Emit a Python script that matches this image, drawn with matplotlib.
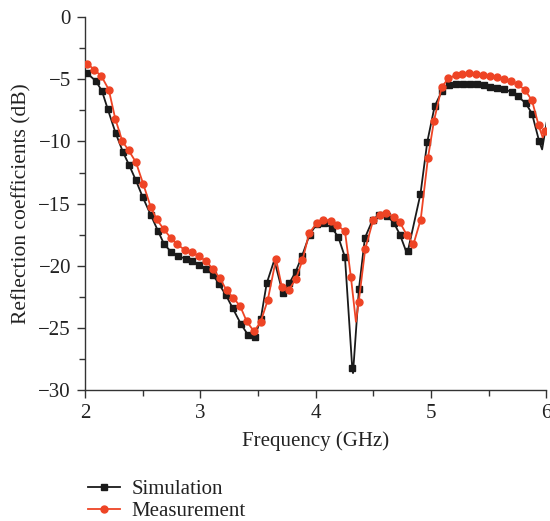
import numpy as np
import matplotlib
matplotlib.use("Agg")
import matplotlib.pyplot as plt
from matplotlib.lines import Line2D

# ---- data ----
sim_freq = [2.020, 2.093, 2.147, 2.197, 2.266, 2.330, 2.382, 2.440, 2.500, 2.570,
            2.633, 2.685, 2.746, 2.807, 2.876, 2.925, 2.989, 3.049, 3.110, 3.162,
            3.223, 3.281, 3.353, 3.414, 3.472, 3.524, 3.576, 3.715, 3.772, 3.827,
            3.882, 3.948, 4.010, 4.073, 4.142, 4.197, 4.255, 4.318, 4.376, 4.428,
            4.495, 4.552, 4.617, 4.678, 4.732, 4.801, 4.910, 4.969, 5.033, 5.096,
            5.154, 5.218, 5.278, 5.339, 5.400, 5.461, 5.513, 5.571, 5.634, 5.703,
            5.755, 5.822, 5.877, 5.938]
sim_db = [-4.53, -5.12, -5.93, -7.38, -9.33, -10.86, -11.88, -13.09, -14.46, -15.90,
          -17.19, -18.24, -18.88, -19.23, -19.44, -19.63, -19.95, -20.25, -20.73, -21.48,
          -22.37, -23.41, -24.70, -25.56, -25.72, -24.32, -21.42, -22.18, -21.42, -20.49,
          -19.23, -17.50, -16.65, -16.55, -16.97, -17.68, -19.31, -28.21, -21.88, -17.76,
          -16.31, -15.91, -15.97, -16.53, -17.50, -18.80, -14.22, -10.03, -7.16, -5.95,
          -5.49, -5.37, -5.37, -5.37, -5.37, -5.45, -5.63, -5.71, -5.79, -6.03,
          -6.36, -6.92, -7.75, -9.94]
# extra points the simulation curve passes through between markers
sim_curve_freq = [3.642, 4.325, 4.790, 5.965, 6.004]
sim_curve_db = [-19.55, -28.64, -18.95, -10.64, -8.49]

meas_freq = [2.020, 2.081, 2.141, 2.206, 2.263, 2.324, 2.379, 2.442, 2.506, 2.570,
             2.622, 2.685, 2.746, 2.801, 2.865, 2.928, 2.986, 3.049, 3.110, 3.171,
             3.229, 3.286, 3.347, 3.402, 3.466, 3.524, 3.585, 3.657, 3.709, 3.767,
             3.830, 3.886, 3.944, 4.010, 4.067, 4.131, 4.186, 4.255, 4.307, 4.374,
             4.431, 4.500, 4.559, 4.611, 4.676, 4.732, 4.790, 4.849, 4.912, 4.975,
             5.027, 5.094, 5.151, 5.215, 5.272, 5.330, 5.391, 5.452, 5.513, 5.571,
             5.634, 5.695, 5.755, 5.816, 5.877, 5.935, 5.994]
meas_db = [-3.73, -4.24, -4.72, -5.82, -8.18, -9.98, -10.72, -11.67, -13.44, -15.26,
           -16.27, -17.08, -17.78, -18.29, -18.72, -18.91, -19.23, -19.61, -20.27, -21.02,
           -21.99, -22.57, -23.27, -24.46, -25.29, -24.51, -22.77, -19.47, -21.75, -21.96,
           -21.05, -19.57, -17.40, -16.55, -16.31, -16.36, -16.73, -17.22, -20.94, -22.93,
           -18.64, -16.31, -15.91, -15.74, -16.05, -16.52, -17.50, -18.28, -16.28, -11.32,
           -8.34, -5.63, -4.93, -4.67, -4.59, -4.51, -4.59, -4.67, -4.77, -4.80,
           -4.96, -5.17, -5.41, -5.85, -6.70, -8.71, -9.17]
meas_curve_freq = [4.350, 5.970]
meas_curve_db = [-24.51, -9.68]

x_ticks = [2, 3, 4, 5, 6]
y_ticks = [0, -5, -10, -15, -20, -25, -30]
series_names = ["Simulation", "Measurement"]

# ---- style ----
plt.rcParams['font.family'] = ['Liberation Serif', 'DejaVu Serif']
plt.rcParams['axes.unicode_minus'] = True
FS = 15
sim_color = '#1a1a1a'
meas_color = '#ee4425'
axis_color = '#333333'
text_color = '#222222'
MS = 5.0

fig = plt.figure(figsize=(5.5, 5.21), dpi=100)
ax = fig.add_axes([0.1545, 0.2514, 0.993 - 0.1545, 0.967 - 0.2514])


def merged(xs, ys, exs, eys):
    x = np.array(list(xs) + list(exs))
    y = np.array(list(ys) + list(eys))
    o = np.argsort(x)
    return x[o], y[o]


sx, sy = merged(sim_freq, sim_db, sim_curve_freq, sim_curve_db)
mx, my = merged(meas_freq, meas_db, meas_curve_freq, meas_curve_db)

ax.plot(sx, sy, color=sim_color, lw=1.3, zorder=2, solid_joinstyle='round')
ax.plot(sim_freq, sim_db, ls='none', marker='s', ms=MS, color=sim_color,
        mec=sim_color, zorder=3)
ax.plot(mx, my, color=meas_color, lw=1.3, zorder=4, solid_joinstyle='round')
ax.plot(meas_freq, meas_db, ls='none', marker='o', ms=MS, color=meas_color,
        mec=meas_color, zorder=5)

ax.set_xlim(2, 6)
ax.set_ylim(-30, 0)
ax.set_xticks(x_ticks)
ax.set_yticks(y_ticks)
ax.set_xticks(np.arange(2.5, 6, 1.0), minor=True)
ax.set_yticks(np.arange(-27.5, 0, 5.0), minor=True)
ax.set_xticklabels([str(t) for t in x_ticks])
ax.set_yticklabels([str(t).replace('-', '\u2212') for t in y_ticks])

for s in ['top', 'right']:
    ax.spines[s].set_visible(False)
for s in ['left', 'bottom']:
    ax.spines[s].set_color(axis_color)
    ax.spines[s].set_linewidth(1.0)

ax.tick_params(which='major', direction='out', length=6, width=1.0,
               color=axis_color, labelsize=FS, labelcolor=text_color, pad=4)
ax.tick_params(which='minor', direction='out', length=4, width=1.0,
               color=axis_color)

ax.set_xlabel('Frequency (GHz)', fontsize=FS, color=text_color, labelpad=6)
ax.set_ylabel('Reflection coefficients (dB)', fontsize=FS + 0.5, color=text_color,
              labelpad=5)

handles = [
    Line2D([], [], color=sim_color, lw=1.3, marker='s', ms=MS),
    Line2D([], [], color=meas_color, lw=1.3, marker='o', ms=MS),
]
fig.legend(handles, series_names, loc='upper left', bbox_to_anchor=(0.152, 0.087),
           frameon=False, fontsize=FS, handlelength=1.55, handletextpad=0.55,
           labelspacing=0.1, borderaxespad=0, borderpad=0.2,
           labelcolor=text_color)

fig.savefig('out.png', dpi=100)
